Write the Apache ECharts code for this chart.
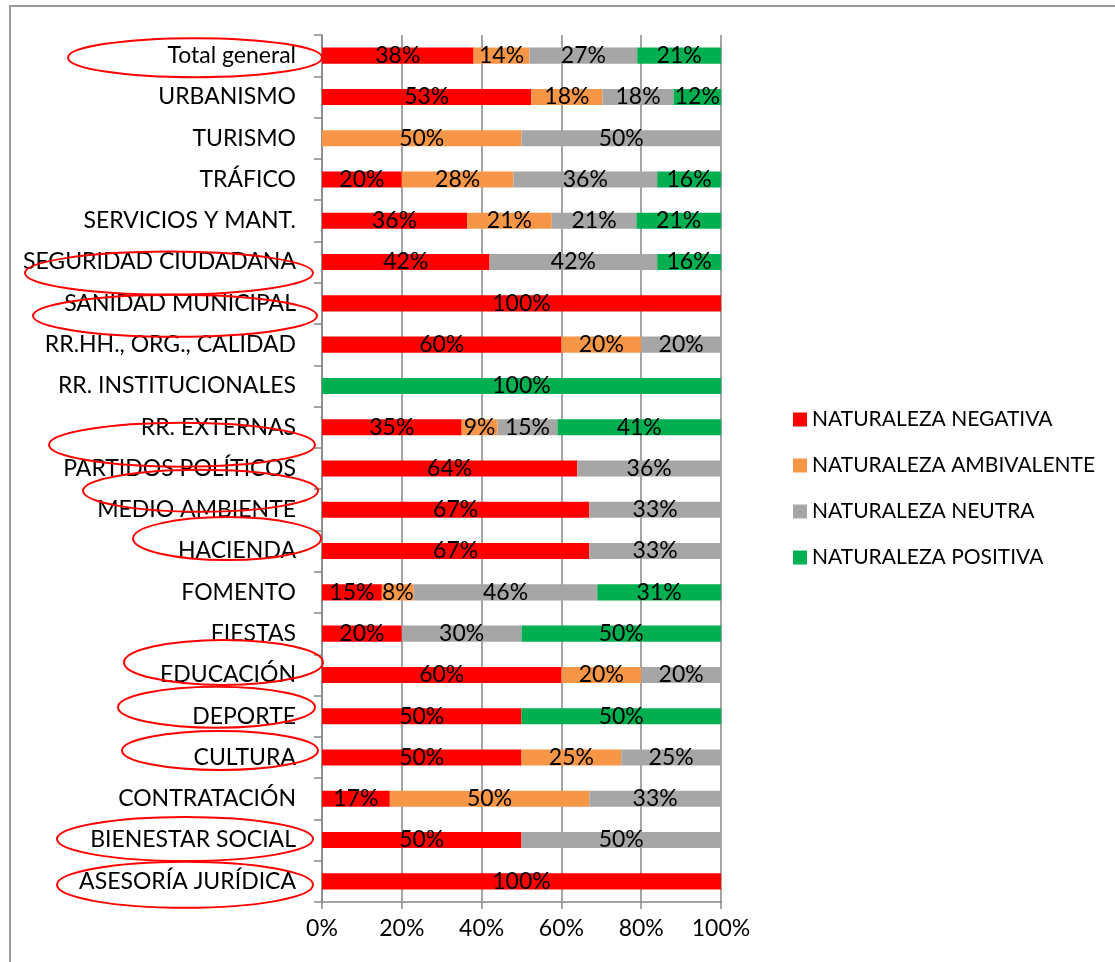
<!DOCTYPE html>
<html>
<head>
<meta charset="utf-8">
<script src="https://cdn.jsdelivr.net/npm/echarts@6/dist/echarts.min.js"></script>
<style>
  html, body { margin: 0; padding: 0; background: #fff; }
  #chart { width: 1115px; height: 962px; }
</style>
</head>
<body>
<div id="chart"></div>
<script>
// Areas, listed bottom to top as the category axis draws them
const categories = [
  'ASESORÍA JURÍDICA', 'BIENESTAR SOCIAL', 'CONTRATACIÓN', 'CULTURA', 'DEPORTE',
  'EDUCACIÓN', 'FIESTAS', 'FOMENTO', 'HACIENDA', 'MEDIO AMBIENTE',
  'PARTIDOS POLÍTICOS', 'RR. EXTERNAS', 'RR. INSTITUCIONALES', 'RR.HH., ORG., CALIDAD',
  'SANIDAD MUNICIPAL', 'SEGURIDAD CIUDADANA', 'SERVICIOS Y MANT.', 'TRÁFICO',
  'TURISMO', 'URBANISMO', 'Total general'
];

// Share of each kind of news per area (%), null where there is none
const negativa    = [100, 50, 17, 50, 50, 60, 20, 15, 67, 67, 64, 35, null, 60, 100, 42, 36, 20, null, 53, 38];
const ambivalente = [null, null, 50, 25, null, 20, null, 8, null, null, null, 9, null, 20, null, null, 21, 28, 50, 18, 14];
const neutra      = [null, 50, 33, 25, null, 20, 30, 46, 33, 33, 36, 15, null, 20, null, 42, 21, 36, 50, 18, 27];
const positiva    = [null, null, null, null, 50, null, 50, 31, null, null, null, 41, 100, null, null, 16, 21, 16, null, 12, 21];

const seriesNames = ['NATURALEZA NEGATIVA', 'NATURALEZA AMBIVALENTE', 'NATURALEZA NEUTRA', 'NATURALEZA POSITIVA'];
const xTicks = [0, 20, 40, 60, 80, 100];

// Areas that carry a hand-drawn ring around their label
const circled = [
  'Total general', 'SEGURIDAD CIUDADANA', 'SANIDAD MUNICIPAL', 'RR. EXTERNAS',
  'MEDIO AMBIENTE', 'HACIENDA', 'EDUCACIÓN', 'DEPORTE', 'CULTURA',
  'BIENESTAR SOCIAL', 'ASESORÍA JURÍDICA'
];
// Ring geometry per circled label: vertical shift, right edge relative to the axis, width, half height
const ringShape = {
  'Total general':       { dy: 2,    right: 0,  w: 254, ry: 19.5 },
  'SEGURIDAD CIUDADANA': { dy: 11,   right: -9, w: 288, ry: 21.5 },
  'SANIDAD MUNICIPAL':   { dy: 12.5, right: -5, w: 284, ry: 21 },
  'RR. EXTERNAS':        { dy: 17.5, right: -7, w: 266, ry: 22 },
  'MEDIO AMBIENTE':      { dy: -19,  right: -4, w: 235, ry: 21 },
  'HACIENDA':            { dy: -12.5, right: -1, w: 188, ry: 21.5 },
  'EDUCACIÓN':           { dy: -12.5, right: 1, w: 199, ry: 22.5 },
  'DEPORTE':             { dy: -9,   right: -7, w: 197, ry: 20.5 },
  'CULTURA':             { dy: -7,   right: -4, w: 196, ry: 19.5 },
  'BIENESTAR SOCIAL':    { dy: -1,   right: -9, w: 256, ry: 22 },
  'ASESORÍA JURÍDICA':   { dy: 3.5,  right: -9, w: 256, ry: 23 }
};

const colors = ['#FF0000', '#F79646', '#A6A6A6', '#00B050'];
const FONT = 'Lato';
const FS = 23;

const raw = [negativa, ambivalente, neutra, positiva];
// 100% stacking: each row scaled to its own total
const rowTotals = categories.map((_, i) => raw.reduce((s, arr) => s + (arr[i] || 0), 0));

const series = raw.map((arr, k) => ({
  name: seriesNames[k],
  type: 'bar',
  stack: 'total',
  barWidth: '39%',
  itemStyle: { color: colors[k] },
  label: {
    show: true,
    position: 'inside',
    color: '#000',
    fontFamily: FONT,
    fontSize: FS,
    formatter: p => (arr[p.dataIndex] == null ? '' : arr[p.dataIndex] + '%')
  },
  data: arr.map((v, i) => (v == null ? null : v / rowTotals[i] * 100))
}));

const chart = echarts.init(document.getElementById('chart'), null, { renderer: 'canvas' });
chart.setOption({
  backgroundColor: '#fff',
  animation: false,
  grid: { left: 322, right: 394, top: 35, bottom: 60, containLabel: false },
  legend: {
    orient: 'vertical',
    left: 788,
    top: 404,
    itemWidth: 14,
    itemHeight: 14,
    itemGap: 25,
    icon: 'rect',
    textStyle: { fontFamily: FONT, fontSize: 21, color: '#000' },
    data: seriesNames
  },
  xAxis: {
    type: 'value',
    min: xTicks[0],
    max: xTicks[xTicks.length - 1],
    interval: xTicks[1] - xTicks[0],
    axisLine: { show: true, lineStyle: { color: '#868686', width: 1.5 } },
    axisTick: { show: true, length: 7, lineStyle: { color: '#868686', width: 1.5 } },
    axisLabel: { margin: 15, color: '#000', fontFamily: FONT, fontSize: FS, formatter: v => v + '%' },
    splitLine: { show: true, lineStyle: { color: '#868686', width: 1.5 } }
  },
  yAxis: {
    type: 'category',
    data: categories,
    axisLine: { show: true, lineStyle: { color: '#868686', width: 1.5 } },
    axisTick: { show: true, length: 8, lineStyle: { color: '#868686', width: 1.5 } },
    axisLabel: { margin: 26, color: '#000', fontFamily: FONT, fontSize: FS }
  },
  series: series
});

// Page frame plus the red rings around the chosen labels
function drawOverlay() {
  const axisX = chart.convertToPixel({ xAxisIndex: 0 }, 0);
  const rings = circled.map(name => {
    const s = ringShape[name];
    const cy = chart.convertToPixel({ yAxisIndex: 0 }, name) + s.dy;
    const right = axisX + s.right;
    return {
      type: 'ellipse',
      z: 100,
      silent: true,
      shape: { cx: right - s.w / 2, cy: cy, rx: s.w / 2, ry: s.ry },
      style: { fill: null, stroke: '#FF0000', lineWidth: 2 }
    };
  });
  chart.setOption({
    graphic: [
      {
        type: 'rect',
        z: 100,
        silent: true,
        shape: { x: 10, y: 6, width: 1200, height: 1000 },
        style: { fill: null, stroke: '#9a9a9a', lineWidth: 2 }
      }
    ].concat(rings)
  });
}
drawOverlay();
</script>
</body>
</html>
